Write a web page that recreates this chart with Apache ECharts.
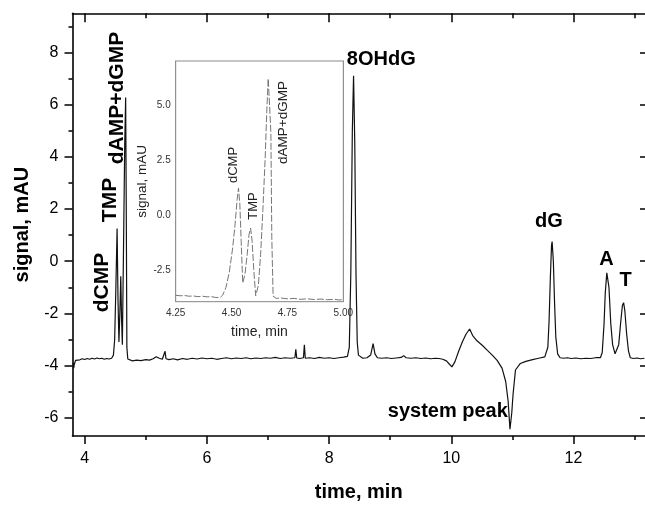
<!DOCTYPE html>
<html>
<head>
<meta charset="utf-8">
<script src="https://cdn.jsdelivr.net/npm/echarts@6/dist/echarts.min.js"></script>
<style>
html,body{margin:0;padding:0;background:#fff;overflow:hidden;}
#chart{width:645px;height:507px;}
</style>
</head>
<body>
<div id="chart"></div>
<script>
// ---- data ----
const xTicks = [4, 6, 8, 10, 12];
const xMinorTicks = [5, 7, 9, 11, 13];
const yTicks = [-6, -4, -2, 0, 2, 4, 6, 8];
const yMinorTicks = [-5, -3, -1, 1, 3, 5, 7, 9];
const insetXTicks = [4.25, 4.5, 4.75, 5.0];
const insetXTickMarks = [4.25, 4.375, 4.5, 4.625, 4.75, 4.875, 5.0];
const insetYTicks = [-2.5, 0, 2.5, 5.0];
const insetYTickMarks = [-3.75, -2.5, -1.25, 0, 1.25, 2.5, 3.75, 5.0, 6.25];

const mainTime = [3.81,3.82,3.83,3.85,3.88,3.92,3.96,4.0,4.04,4.08,4.12,4.16,4.2,4.24,4.28,4.32,4.36,4.4,4.44,4.47,4.49,4.51,4.53,4.545,4.56,4.575,4.59,4.603,4.616,4.635,4.655,4.67,4.68,4.69,4.705,
4.72,4.78,4.85,4.92,5.0,5.06,5.12,5.17,5.19,5.22,5.27,5.3,5.315,5.33,5.38,5.45,5.52,5.6,5.68,5.76,5.84,5.92,6.0,6.08,6.16,6.24,6.32,6.4,6.48,6.56,6.64,6.72,6.8,6.88,6.96,7.04,7.12,7.2,7.28,7.36,7.44,7.455,7.47,7.52,7.58,7.595,7.61,7.68,7.76,7.84,7.92,8.0,8.08,8.16,8.24,
8.3,8.33,8.355,8.38,8.4,8.42,8.44,8.46,8.48,8.55,8.62,8.68,8.72,8.75,8.79,8.86,8.94,9.02,9.1,9.18,9.22,9.26,9.34,9.42,9.5,9.58,9.66,9.74,9.8,9.86,9.92,9.97,10.01,10.06,10.12,10.18,10.24,10.3,10.35,10.42,10.51,10.59,10.67,10.75,10.83,10.89,10.93,10.96,10.99,11.01,11.05,11.13,11.22,11.33,11.43,11.53,
11.55,11.58,11.6,11.62,11.64,11.65,11.67,11.69,11.71,11.74,11.78,11.84,11.9,11.96,12.04,12.12,12.2,12.28,12.36,12.44,12.47,12.5,12.52,12.545,12.555,12.58,12.61,12.64,12.68,12.71,12.74,12.77,12.8,12.82,12.84,12.87,12.9,12.93,12.98,13.04,13.1,13.16];
const mainSignal = [-3.9,-4.1,-3.95,-3.8,-3.76,-3.78,-3.74,-3.77,-3.73,-3.76,-3.72,-3.75,-3.71,-3.74,-3.72,-3.76,-3.73,-3.75,-3.72,-3.6,-3.0,-1.0,1.25,-1.5,-3.1,-2.0,-0.58,-2.2,-3.2,0.5,4.5,6.27,2.0,-3.3,-3.75,
-3.78,-3.82,-3.79,-3.81,-3.77,-3.79,-3.74,-3.66,-3.6,-3.72,-3.76,-3.7,-3.45,-3.74,-3.77,-3.74,-3.78,-3.73,-3.76,-3.72,-3.75,-3.71,-3.74,-3.72,-3.76,-3.73,-3.7,-3.74,-3.71,-3.73,-3.7,-3.74,-3.71,-3.73,-3.7,-3.72,-3.69,-3.73,-3.7,-3.72,-3.7,-3.38,-3.71,-3.73,-3.7,-3.2,-3.72,-3.7,-3.73,-3.69,-3.72,-3.7,-3.73,-3.7,-3.68,
-3.65,-3.3,-0.5,5.0,7.11,4.5,-0.5,-3.1,-3.6,-3.72,-3.7,-3.6,-3.16,-3.55,-3.7,-3.72,-3.7,-3.73,-3.71,-3.69,-3.62,-3.7,-3.72,-3.7,-3.73,-3.71,-3.74,-3.72,-3.73,-3.76,-3.82,-3.95,-4.05,-3.85,-3.45,-3.1,-2.8,-2.6,-2.85,-3.05,-3.23,-3.42,-3.6,-3.8,-4.1,-4.61,-5.37,-6.44,-5.8,-5.12,-4.17,-3.92,-3.84,-3.77,-3.72,-3.67,
-3.65,-3.3,-2.3,-0.7,0.6,0.75,0.0,-1.6,-2.9,-3.55,-3.7,-3.72,-3.7,-3.73,-3.71,-3.74,-3.72,-3.73,-3.7,-3.7,-3.5,-2.4,-1.2,-0.45,-0.39,-1.0,-2.4,-3.2,-3.55,-3.55,-3.2,-2.4,-1.7,-1.59,-1.9,-2.8,-3.45,-3.7,-3.73,-3.71,-3.74,-3.72];

const insetTime = [4.25,4.27,4.29,4.31,4.33,4.35,4.37,4.39,4.41,4.43,4.45,4.46,4.475,4.49,4.505,4.515,4.525,4.531,4.537,4.543,4.55,4.56,4.57,4.578,4.585,4.592,4.6,4.608,4.62,4.63,4.64,4.65,4.658,4.664,4.67,4.676,4.68,4.686,4.7,4.72,4.75,4.78,4.81,4.84,4.87,4.9,4.93,4.96,4.98,5.0];
const insetSignal = [-3.66,-3.68,-3.67,-3.7,-3.69,-3.72,-3.7,-3.73,-3.72,-3.76,-3.75,-3.65,-3.3,-2.6,-1.5,-0.5,0.7,1.21,0.5,-1.2,-3.1,-2.7,-1.8,-0.9,-0.6,-1.2,-2.6,-3.68,-3.2,-1.8,0.2,2.5,4.8,6.2,5.0,3.7,-1.0,-3.7,-3.8,-3.78,-3.82,-3.8,-3.84,-3.82,-3.85,-3.83,-3.86,-3.84,-3.87,-3.86];

// ---- build ----
const FONT = '"Liberation Sans", Arial, Helvetica, sans-serif';
const mainData = mainTime.map((t, i) => [t, mainSignal[i]]);
const insetData = insetTime.map((t, i) => [t, insetSignal[i]]);

const X_MIN = 3.8, X_MAX = 13.17, Y_MIN = -6.7, Y_MAX = 9.5;
const IX_MIN = 4.25, IX_MAX = 5.0, IY_MIN = -3.95, IY_MAX = 7.0;

function hiddenAxisBase(extra) {
  return Object.assign({
    type: 'value', splitLine: {show: false}, axisLabel: {show: false},
    axisLine: {show: false}
  }, extra);
}

const chart = echarts.init(document.getElementById('chart'), null, {renderer: 'canvas'});

const option = {
  animation: false,
  backgroundColor: '#fff',
  textStyle: {fontFamily: FONT},
  grid: [
    {left: 72.5, top: 13.3, width: 573.5, height: 428.4, containLabel: false, show: false},
    {left: 175.7, top: 61, width: 167.6, height: 240.7, containLabel: false, show: true,
     backgroundColor: '#fff', borderColor: '#8a8a8a', borderWidth: 1, z: 5}
  ],
  xAxis: [
    { // 0 main bottom major
      gridIndex: 0, type: 'value', min: X_MIN, max: X_MAX, position: 'bottom',
      splitLine: {show: false},
      axisLine: {show: true, onZero: false, lineStyle: {color: '#000', width: 1.6}},
      axisTick: {show: true, customValues: xTicks, length: 8, inside: false, lineStyle: {color: '#000', width: 1.5}},
      axisLabel: {show: true, customValues: xTicks, fontSize: 16, color: '#000', margin: 15, fontFamily: FONT},
      name: 'time, min', nameLocation: 'middle', nameGap: 46,
      nameTextStyle: {fontSize: 20, fontWeight: 'bold', color: '#000', fontFamily: FONT}
    },
    hiddenAxisBase({ // 1 main bottom minor
      gridIndex: 0, min: X_MIN, max: X_MAX, position: 'bottom',
      axisLine: {show: false, onZero: false},
      axisTick: {show: true, customValues: xMinorTicks, length: 4, inside: false, lineStyle: {color: '#000', width: 1.5}}
    }),
    hiddenAxisBase({ // 2 main top major
      gridIndex: 0, min: X_MIN, max: X_MAX, position: 'top',
      axisLine: {show: true, onZero: false, lineStyle: {color: '#000', width: 1.6}},
      axisTick: {show: true, customValues: xTicks, length: 9, inside: true, lineStyle: {color: '#000', width: 1.5}}
    }),
    hiddenAxisBase({ // 3 main top minor
      gridIndex: 0, min: X_MIN, max: X_MAX, position: 'top',
      axisLine: {show: false, onZero: false},
      axisTick: {show: true, customValues: xMinorTicks, length: 5, inside: true, lineStyle: {color: '#000', width: 1.5}}
    }),
    { // 4 inset bottom
      gridIndex: 1, type: 'value', min: IX_MIN, max: IX_MAX, position: 'bottom',
      splitLine: {show: false},
      axisLine: {show: true, onZero: false, lineStyle: {color: '#8a8a8a', width: 1}},
      axisTick: {show: true, customValues: insetXTickMarks, length: 4, inside: true, lineStyle: {color: '#8a8a8a', width: 1}},
      axisLabel: {show: true, customValues: insetXTicks, fontSize: 10, color: '#333', margin: 7, fontFamily: FONT,
                  formatter: v => Number(v).toFixed(2)},
      name: 'time, min', nameLocation: 'middle', nameGap: 23,
      nameTextStyle: {fontSize: 14, color: '#222', fontFamily: FONT}
    }
  ],
  yAxis: [
    { // 0 main left major
      gridIndex: 0, type: 'value', min: Y_MIN, max: Y_MAX, position: 'left',
      splitLine: {show: false},
      axisLine: {show: true, onZero: false, lineStyle: {color: '#000', width: 1.6}},
      axisTick: {show: true, customValues: yTicks, length: 8, inside: false, lineStyle: {color: '#000', width: 1.5}},
      axisLabel: {show: true, customValues: yTicks, fontSize: 16, color: '#000', margin: 14, fontFamily: FONT},
      name: 'signal, mAU', nameLocation: 'middle', nameGap: 40, nameRotate: 90,
      nameTextStyle: {fontSize: 20, fontWeight: 'bold', color: '#000', fontFamily: FONT}
    },
    hiddenAxisBase({ // 1 main left minor
      gridIndex: 0, min: Y_MIN, max: Y_MAX, position: 'left',
      axisLine: {show: false, onZero: false},
      axisTick: {show: true, customValues: yMinorTicks, length: 4, inside: false, lineStyle: {color: '#000', width: 1.5}}
    }),
    hiddenAxisBase({ // 2 main right (line lies beyond the picture edge)
      gridIndex: 0, min: Y_MIN, max: Y_MAX, position: 'right',
      axisLine: {show: false, onZero: false},
      axisTick: {show: true, customValues: yTicks, length: 5, inside: true, lineStyle: {color: '#000', width: 1.5}}
    }),
    { // 3 inset left
      gridIndex: 1, type: 'value', min: IY_MIN, max: IY_MAX, position: 'left',
      splitLine: {show: false},
      axisLine: {show: true, onZero: false, lineStyle: {color: '#8a8a8a', width: 1}},
      axisTick: {show: true, customValues: insetYTickMarks, length: 4, inside: true, lineStyle: {color: '#8a8a8a', width: 1}},
      axisLabel: {show: true, customValues: insetYTicks, fontSize: 10, color: '#333', margin: 5, fontFamily: FONT,
                  formatter: v => Number(v).toFixed(1)},
      name: 'signal, mAU', nameLocation: 'middle', nameGap: 26, nameRotate: 90,
      nameTextStyle: {fontSize: 13.5, color: '#222', fontFamily: FONT}
    },
    hiddenAxisBase({ // 4 inset right
      gridIndex: 1, min: IY_MIN, max: IY_MAX, position: 'right',
      axisLine: {show: true, onZero: false, lineStyle: {color: '#8a8a8a', width: 1}},
      axisTick: {show: true, customValues: insetYTickMarks, length: 4, inside: true, lineStyle: {color: '#8a8a8a', width: 1}}
    })
  ],
  series: [
    {
      type: 'line', xAxisIndex: 0, yAxisIndex: 0, data: mainData,
      showSymbol: false, symbol: 'none', smooth: false, clip: true,
      lineStyle: {color: '#111', width: 1.2}, z: 3
    },
    {
      type: 'line', xAxisIndex: 4, yAxisIndex: 3, data: insetData,
      showSymbol: false, symbol: 'none', smooth: false, clip: true,
      lineStyle: {color: '#666', width: 0.9, type: [7, 2]}, z: 6
    }
  ],
  graphic: [
    {type: 'text', x: 102.7, y: 282.5, rotation: Math.PI / 2, z: 10,
     style: {text: 'dCMP', font: 'bold 21px ' + FONT, fill: '#000', textAlign: 'center', textVerticalAlign: 'middle'}},
    {type: 'text', x: 110, y: 200, rotation: Math.PI / 2, z: 10,
     style: {text: 'TMP', font: 'bold 21px ' + FONT, fill: '#000', textAlign: 'center', textVerticalAlign: 'middle'}},
    {type: 'text', x: 117, y: 98, rotation: Math.PI / 2, z: 10,
     style: {text: 'dAMP+dGMP', font: 'bold 21px ' + FONT, fill: '#000', textAlign: 'center', textVerticalAlign: 'middle'}},
    {type: 'text', x: 381.3, y: 59.5, z: 10,
     style: {text: '8OHdG', font: 'bold 20px ' + FONT, fill: '#000', textAlign: 'center', textVerticalAlign: 'middle'}},
    {type: 'text', x: 549, y: 221.5, z: 10,
     style: {text: 'dG', font: 'bold 20px ' + FONT, fill: '#000', textAlign: 'center', textVerticalAlign: 'middle'}},
    {type: 'text', x: 606.5, y: 259, z: 10,
     style: {text: 'A', font: 'bold 20px ' + FONT, fill: '#000', textAlign: 'center', textVerticalAlign: 'middle'}},
    {type: 'text', x: 625.5, y: 280, z: 10,
     style: {text: 'T', font: 'bold 20px ' + FONT, fill: '#000', textAlign: 'center', textVerticalAlign: 'middle'}},
    {type: 'text', x: 447.8, y: 411, z: 10,
     style: {text: 'system peak', font: 'bold 20px ' + FONT, fill: '#000', textAlign: 'center', textVerticalAlign: 'middle'}},
    {type: 'text', x: 233, y: 165, rotation: Math.PI / 2, z: 10,
     style: {text: 'dCMP', font: '13px ' + FONT, fill: '#222', textAlign: 'center', textVerticalAlign: 'middle'}},
    {type: 'text', x: 253, y: 206, rotation: Math.PI / 2, z: 10,
     style: {text: 'TMP', font: '13px ' + FONT, fill: '#222', textAlign: 'center', textVerticalAlign: 'middle'}},
    {type: 'text', x: 283, y: 122.5, rotation: Math.PI / 2, z: 10,
     style: {text: 'dAMP+dGMP', font: '13.5px ' + FONT, fill: '#222', textAlign: 'center', textVerticalAlign: 'middle'}}
  ]
};
chart.setOption(option);
</script>
</body>
</html>
